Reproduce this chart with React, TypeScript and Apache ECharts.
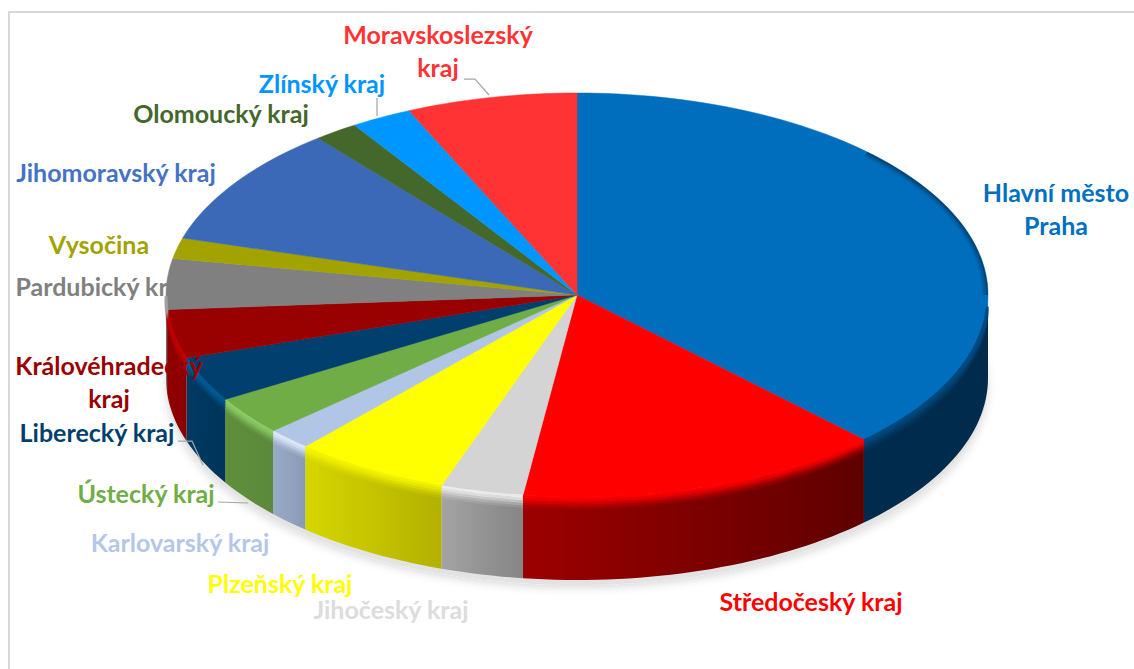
import React, { useEffect, useRef } from "react";
import * as echarts from "echarts";

const categories = [
  "Hlavní město\nPraha", "Středočeský kraj", "Jihočeský kraj", "Plzeňský kraj", "Karlovarský kraj",
  "Ústecký kraj", "Liberecký kraj", "Královéhradecký\nkraj", "Pardubický kraj", "Vysočina",
  "Jihomoravský kraj", "Olomoucký kraj", "Zlínský kraj", "Moravskoslezský\nkraj",
];
const values = [37.7, 14.4, 3.25, 6.15, 1.75, 3.1, 3.6, 3.9, 4.05, 1.65, 9.6, 1.75, 2.4, 6.7];
const topColors = ["#006ebd", "#ff0000", "#d4d4d4", "#ffff00", "#b1c5e6", "#70ad47", "#003f6e", "#990000", "#808080", "#a3a300", "#3c69b7", "#44682c", "#0096ff", "#ff3333"];
const labelColors = ["#0070c0", "#ff0000", "#dcdcdc", "#ffff00", "#b4c7e7", "#70ad47", "#003f6e", "#990000", "#808080", "#a3a300", "#4472c4", "#44682c", "#0096ff", "#ff3333"];
const wallLeft = ["#002b4d", "#9c0000", "#a3a3a3", "#d6d600", "#99aac8", "#5f8f3c", "#003a63", "#8f0000", "#6a6a6a", "#888800", "#33589a", "#385624", "#007cd3", "#d42a2a"];
const wallRight = ["#002b4d", "#5f0000", "#858585", "#b3b000", "#8a9ab6", "#5a8a3a", "#003459", "#8a0000", "#6a6a6a", "#888800", "#33589a", "#385624", "#007cd3", "#d42a2a"];
const lipColors = ["#004a80", "#ff0000", "#eeeeee", "#f4f400", "#dfe9fc", "#8ccc66", "#005a95", "#c00000", "#a0a0a0", "#a3a300", "#3c69b7", "#44682c", "#0096ff", "#ff3333"];

const labelPlaces: [number, number][] = [
  [1056, 208], [811, 601], [391, 609], [280, 583], [180, 542], [146, 493], [97, 432],
  [109, 381], [101, 286], [99, 244], [116, 172], [221, 113], [322, 83], [438, 50],
];
const leaders: [number, number][][] = [
  [[178, 441], [192, 441], [203, 465]],
  [[218, 502], [248, 503]],
  [[377, 98], [377, 116]],
  [[464, 79], [475, 79], [489, 95]],
];

const CX = 577, CY = 295, RX = 411, RY = 202, DEPTH = 83;
const rad = (d: number) => (d * Math.PI) / 180;
const pt = (a: number, off = 0, inset = 0): number[] => [
  CX + (RX - inset) * Math.sin(rad(a)),
  CY - (RY - inset) * Math.cos(rad(a)) + off,
];
const arc = (a0: number, a1: number, off = 0, inset = 0) => {
  const n = Math.max(2, Math.ceil(Math.abs(a1 - a0) / 1.5));
  const out: number[][] = [];
  for (let i = 0; i <= n; i++) out.push(pt(a0 + ((a1 - a0) * i) / n, off, inset));
  return out;
};
const LIP: [number, number][] = [[1, 0.95], [3.5, 0.8], [6, 0.55], [8.5, 0.3], [11, 0.13]];

export default function App() {
  const ref = useRef<HTMLDivElement>(null);
  useEffect(() => {
    document.body.style.margin = "0";
    const chart = echarts.init(ref.current!, undefined, { renderer: "svg" });
    const total = values.reduce((s, v) => s + v, 0);
    const starts: number[] = [];
    values.reduce((acc, v, i) => { starts[i] = (acc / total) * 360; return acc + v; }, 0);

    const renderItem = (_p: any, api: any) => {
      const i = _p.dataIndex;
      const a0 = starts[i];
      const a1 = a0 + (api.value(0) / total) * 360;
      const children: any[] = [];
      if (i === 0) {
        children.push({
          type: "polygon", z2: 0,
          shape: { points: arc(0, 360, DEPTH + 5) },
          style: { fill: "#e3e3e3", shadowBlur: 9, shadowColor: "rgba(0,0,0,0.14)", shadowOffsetY: 3 },
        });
        leaders.forEach((pts) =>
          children.push({ type: "polyline", z2: 20, shape: { points: pts }, style: { stroke: "#a6a6a6", lineWidth: 1.25, fill: "none" } })
        );
      }
      // side wall
      const w0 = Math.max(a0, 90), w1 = Math.min(a1, 270);
      if (w1 > w0) {
        const poly = [...arc(w0, w1, 0), ...arc(w0, w1, DEPTH).reverse()];
        children.push({
          type: "polygon", z2: 1, shape: { points: poly },
          style: {
            fill: new echarts.graphic.LinearGradient(0, 0, 1, 0, [
              { offset: 0, color: wallLeft[i] },
              { offset: 1, color: wallRight[i] },
            ]),
            stroke: "none",
          },
        });
        LIP.forEach(([d, alpha]) =>
          children.push({
            type: "polyline", z2: 3, shape: { points: arc(i === 0 ? 93 : w0, w1, d) },
            style: { stroke: lipColors[i], lineWidth: 2.8, opacity: alpha, fill: "none" },
          })
        );
      }
      // top face
      children.push({
        type: "polygon", z2: 2,
        shape: { points: [[CX, CY], ...arc(a0, a1, 0)] },
        style: { fill: topColors[i], stroke: topColors[i], lineWidth: 0.5 },
      });
      if (i === 0) {
        [[1, 0.55], [3, 0.3], [5, 0.12]].forEach(([d, alpha]) =>
          children.push({
            type: "polyline", z2: 4, shape: { points: arc(45, 90, 0, d) },
            style: { stroke: "#00243f", lineWidth: 2, opacity: alpha, fill: "none" },
          })
        );
      }
      // label
      children.push({
        type: "text", z2: 30,
        style: {
          text: categories[i], x: labelPlaces[i][0], y: labelPlaces[i][1],
          fill: labelColors[i], font: "bold 25px Lato", lineHeight: 33,
          align: "center", verticalAlign: "middle",
        },
      });
      return { type: "group", children };
    };

    chart.setOption({
      animation: false,
      backgroundColor: "#ffffff",
      graphic: [
        {
          type: "polyline", silent: true,
          shape: { points: [[9, 669], [9, 12], [1134, 12]] },
          style: { stroke: "#d9d9d9", lineWidth: 2, fill: "none" },
        },
      ],
      series: [
        {
          type: "custom",
          coordinateSystem: "none",
          renderItem,
          data: values.map((v, i) => ({ name: categories[i], value: [v] })),
        },
      ],
    });
    return () => chart.dispose();
  }, []);
  return <div ref={ref} style={{ position: "absolute", left: 0, top: 0, width: 1134, height: 669 }} />;
}
